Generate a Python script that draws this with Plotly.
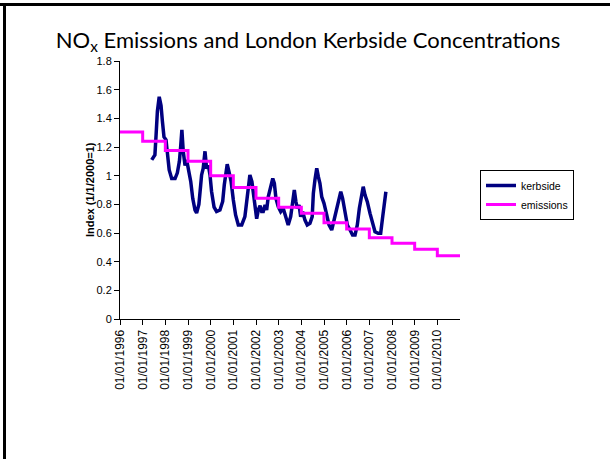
import plotly.graph_objects as go

# ---- data ----
kerb_years = [1997.40, 1997.47, 1997.54, 1997.59, 1997.65, 1997.73, 1997.81, 1997.87, 1997.94,
              1998.03, 1998.09, 1998.17, 1998.28, 1998.43, 1998.53, 1998.62, 1998.68, 1998.73,
              1998.79, 1998.87, 1998.94, 1999.01, 1999.12, 1999.21, 1999.31, 1999.38, 1999.48,
              1999.56, 1999.60, 1999.67, 1999.75, 1999.82, 1999.90, 1999.97, 2000.04, 2000.15,
              2000.26, 2000.41, 2000.53, 2000.60, 2000.68, 2000.73, 2000.82, 2000.90, 2001.00,
              2001.10, 2001.22, 2001.37, 2001.51, 2001.62, 2001.73, 2001.82, 2001.95, 2002.03,
              2002.10, 2002.18, 2002.25, 2002.32, 2002.40, 2002.47, 2002.54, 2002.65, 2002.74,
              2002.81, 2002.88, 2002.98, 2003.09, 2003.20, 2003.32, 2003.42, 2003.53, 2003.60,
              2003.69, 2003.76, 2003.82, 2003.90, 2003.97, 2004.06, 2004.16, 2004.26, 2004.38,
              2004.48, 2004.53, 2004.60, 2004.68, 2004.75, 2004.82, 2004.90, 2005.00, 2005.12,
              2005.22, 2005.34, 2005.41, 2005.53, 2005.63, 2005.74, 2005.82, 2005.93, 2006.03,
              2006.15, 2006.26, 2006.37, 2006.47, 2006.56, 2006.66, 2006.73, 2006.81, 2006.91,
              2007.03, 2007.15, 2007.25, 2007.39, 2007.50, 2007.59, 2007.66, 2007.73]
kerb_values = [1.11, 1.13, 1.145, 1.28, 1.45, 1.55, 1.49, 1.38, 1.27,
               1.25, 1.17, 1.04, 0.98, 0.98, 1.02, 1.10, 1.21, 1.32,
               1.17, 1.07, 1.11, 1.05, 0.96, 0.84, 0.76, 0.74, 0.80,
               0.935, 1.005, 1.05, 1.17, 1.05, 1.07, 1.005, 0.89, 0.78,
               0.75, 0.76, 0.82, 0.935, 1.04, 1.08, 1.02, 0.96, 0.83,
               0.726, 0.656, 0.656, 0.714, 0.865, 1.005, 0.958, 0.82, 0.70,
               0.76, 0.79, 0.75, 0.75, 0.795, 0.76, 0.853, 0.923, 0.98,
               0.947, 0.842, 0.784, 0.749, 0.772, 0.714, 0.656, 0.714, 0.795,
               0.90, 0.82, 0.772, 0.795, 0.714, 0.749, 0.69, 0.656, 0.668,
               0.714, 0.877, 0.97, 1.052, 0.993, 0.947, 0.853, 0.807, 0.726,
               0.656, 0.621, 0.668, 0.749, 0.83, 0.888, 0.842, 0.749, 0.656,
               0.621, 0.586, 0.586, 0.656, 0.772, 0.877, 0.923, 0.865, 0.819,
               0.737, 0.656, 0.609, 0.598, 0.598, 0.714, 0.819, 0.888]

em_years = [1996, 1997, 1998, 1999, 2000, 2001, 2002, 2003, 2004, 2005, 2006, 2007, 2008, 2009, 2010, 2011]
em_values = [1.305, 1.24, 1.175, 1.10, 1.0, 0.918, 0.842, 0.78, 0.737, 0.672, 0.628, 0.567, 0.528, 0.486, 0.442, 0.442]

tick_years = [1996, 1997, 1998, 1999, 2000, 2001, 2002, 2003, 2004, 2005, 2006, 2007, 2008, 2009, 2010]
tick_labels = ["01/01/%d" % y for y in tick_years]

# ---- figure ----
W, H = 610, 459
L, R, T, B = 120, 150, 61, 140
pw, ph = W - L - R, H - T - B

def px_x(p):
    return (p - L) / pw

def px_y(p):
    return (H - B - p) / ph

fig = go.Figure()
fig.add_trace(go.Scatter(x=kerb_years, y=kerb_values, mode="lines", name="kerbside",
                         line=dict(color="#000080", width=3.5)))
fig.add_trace(go.Scatter(x=em_years, y=em_values, mode="lines", name="emissions",
                         line=dict(color="#FF00FF", width=3, shape="hv")))

ARIAL = "Arial, Liberation Sans, sans-serif"

fig.update_layout(
    width=W, height=H,
    margin=dict(l=L, r=R, t=T, b=B),
    paper_bgcolor="white", plot_bgcolor="white",
    title=dict(text="NO<sub>x</sub> Emissions and London Kerbside Concentrations",
               font=dict(family="Lato, Open Sans, sans-serif", size=22, color="#000000"),
               x=0.505, xanchor="center", xref="container",
               y=1 - 40 / H, yanchor="middle", yref="container"),
    xaxis=dict(range=[1996, 2011], tickmode="array", tickvals=tick_years, ticktext=tick_labels,
               tickangle=-90, ticks="outside", ticklen=5, tickcolor="black",
               showline=True, linecolor="black", linewidth=1, showgrid=False, zeroline=False,
               tickfont=dict(family=ARIAL, size=12, color="#000000")),
    yaxis=dict(range=[0, 1.8], dtick=0.2, tick0=0, ticks="outside", ticklen=5, tickcolor="black",
               showline=True, linecolor="black", linewidth=1, showgrid=False, zeroline=False,
               tickfont=dict(family=ARIAL, size=11, color="#000000")),
    legend=dict(x=px_x(480), y=px_y(170), xanchor="left", yanchor="top",
                bordercolor="black", borderwidth=1, bgcolor="white",
                font=dict(family=ARIAL, size=10.5, color="#000000"),
                tracegroupgap=0, itemwidth=30),
    showlegend=True,
)

fig.add_annotation(text="<b>Index (1/1/2000=1)</b>", xref="paper", yref="paper",
                   x=px_x(82), y=0.5, textangle=-90, showarrow=False,
                   font=dict(family=ARIAL, size=11, color="#000000"))

# slide frame (top and left edges)
fig.add_shape(type="line", xref="paper", yref="paper", x0=px_x(0), x1=px_x(W), y0=px_y(4.5), y1=px_y(4.5),
              line=dict(color="black", width=3))
fig.add_shape(type="line", xref="paper", yref="paper", x0=px_x(4.5), x1=px_x(4.5), y0=px_y(3), y1=px_y(H),
              line=dict(color="black", width=3))

fig.write_html("out.html")
